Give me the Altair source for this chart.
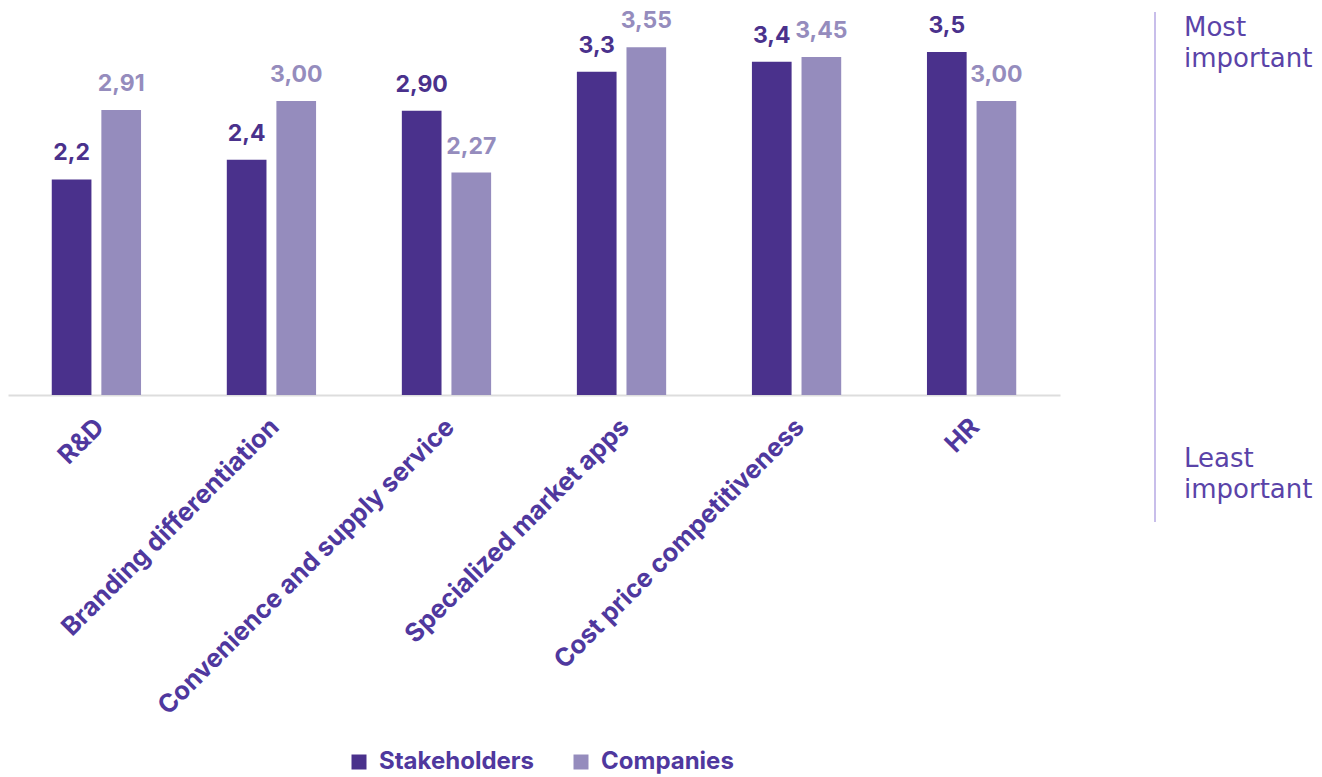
import altair as alt
import pandas as pd

categories = ["R&D", "Branding differentiation", "Convenience and supply service",
              "Specialized market apps", "Cost price competitiveness", "HR"]
stakeholders = [2.2, 2.4, 2.90, 3.3, 3.4, 3.5]
stakeholder_labels = ["2,2", "2,4", "2,90", "3,3", "3,4", "3,5"]
companies = [2.91, 3.00, 2.27, 3.55, 3.45, 3.00]
company_labels = ["2,91", "3,00", "2,27", "3,55", "3,45", "3,00"]
series = ["Stakeholders", "Companies"]

DARK = "#4A318C"
LIGHT = "#958CBD"
TEXT = "#4F389E"
FONT = "Inter"
ANN_FONT = "DejaVu Sans"

rows = []
for c, v, l in zip(categories, stakeholders, stakeholder_labels):
    rows.append({"category": c, "series": "Stakeholders", "value": v, "label": l})
for c, v, l in zip(categories, companies, company_labels):
    rows.append({"category": c, "series": "Companies", "value": v, "label": l})
df = pd.DataFrame(rows)

x = alt.X("category:N", sort=categories, title=None,
          scale=alt.Scale(paddingInner=0.49, paddingOuter=0.25),
          axis=alt.Axis(labelAngle=-45, labelFont=FONT, labelFontSize=25.5,
                        labelFontWeight="bold", labelColor=TEXT, ticks=False,
                        domainColor="#dddddd", domainWidth=2, labelPadding=19,
                        labelOffset=-5, labelLimit=600))
xo = alt.XOffset("series:N", sort=series, scale=alt.Scale(paddingInner=0.2))
y = alt.Y("value:Q", scale=alt.Scale(domain=[0, 3.909]), axis=None)

bars = alt.Chart(df).mark_bar().encode(
    x=x, xOffset=xo, y=y,
    color=alt.Color("series:N", sort=series,
                    scale=alt.Scale(domain=series, range=[DARK, LIGHT]),
                    legend=alt.Legend(title=None, orient="none", legendX=339, legendY=738,
                                      direction="horizontal", symbolType="square",
                                      symbolSize=225, symbolStrokeWidth=0,
                                      labelFont=FONT, labelFontSize=24,
                                      labelFontWeight="bold", labelColor=TEXT,
                                      labelLimit=300, columnPadding=34,
                                      symbolOffset=0, labelOffset=8)),
)

labels = alt.Chart(df).mark_text(baseline="alphabetic", dy=-19, font=FONT, fontSize=23,
                                 fontWeight="bold").encode(
    x=x, xOffset=xo, y=y, text="label:N",
    color=alt.condition(alt.datum.series == "Stakeholders", alt.value(DARK), alt.value(LIGHT)),
)

ann_line = alt.Chart(pd.DataFrame({"a": [0]})).mark_rule(color="#C8BEEA", strokeWidth=2).encode(
    x=alt.value(1147), y=alt.value(0), y2=alt.value(510))

top_text = alt.Chart(pd.DataFrame({"t": [["Most", "important"]]})).mark_text(
    align="left", baseline="top", font=ANN_FONT, fontSize=26, lineHeight=31, color="#5A43A8").encode(
    x=alt.value(1176), y=alt.value(3), text="t")

bottom_text = alt.Chart(pd.DataFrame({"t": [["Least", "important"]]})).mark_text(
    align="left", baseline="top", font=ANN_FONT, fontSize=26, lineHeight=31, color="#5A43A8").encode(
    x=alt.value(1176), y=alt.value(434), text="t")

chart = alt.layer(bars, labels, ann_line, top_text, bottom_text).properties(
    width=1052, height=383,
    padding={"left": 0, "top": 2, "right": 0, "bottom": 0}
).configure_view(stroke=None)

chart.save("out.html", embed_options={"renderer": "svg", "actions": False})
